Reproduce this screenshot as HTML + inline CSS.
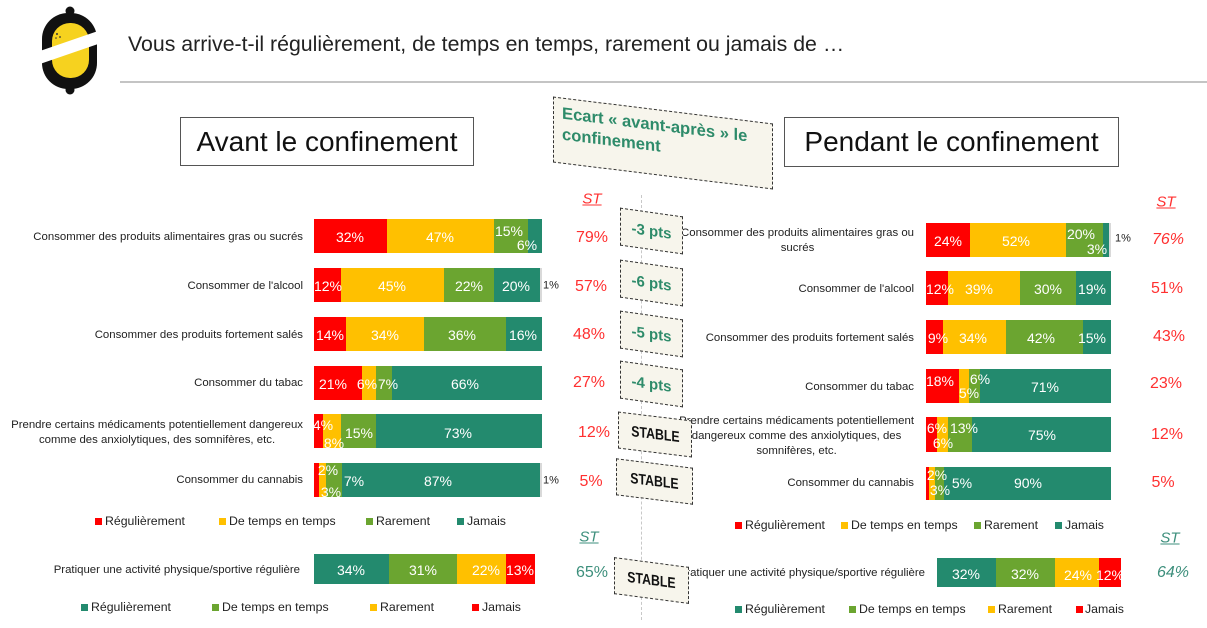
<!DOCTYPE html>
<html><head><meta charset="utf-8">
<style>
body{margin:0;}
#p{position:relative;width:1207px;height:628px;background:#fff;overflow:hidden;font-family:"Liberation Sans",Arial,sans-serif;color:#222;}
.b{position:absolute;}
.r{background:#ff0000}.y{background:#ffc000}.g{background:#6ba530}.t{background:#238a6e}.gr{background:#d9d9d9}
.l1{top:219px;height:34px}.l2{top:268px;height:34px}.l3{top:317px;height:34px}.l4{top:366px;height:34px}.l5{top:414px;height:34px}.l6{top:463px;height:34px}.la{top:554px;height:30px}
.r1{top:223px;height:34px}.r2{top:271px;height:34px}.r3{top:320px;height:34px}.r4{top:369px;height:34px}.r5{top:417px;height:35px}.r6{top:467px;height:33px}.ra{top:558px;height:29px}
.c{position:absolute;transform:translate(-50%,-50%);white-space:nowrap;line-height:1}
.w{color:#fff;font-size:14px}
.d{color:#222;font-size:11px}
.v{font-size:16px;color:#ff3030}
.vt{font-size:16px;color:#3d8f7c}
.st{font-style:italic;text-decoration:underline;font-size:15px}
.lab{position:absolute;font-size:11.4px;line-height:15px;color:#222;text-align:center;white-space:nowrap}
.lg{position:absolute;font-size:12.3px;line-height:14px;color:#222;white-space:nowrap}
.sq{position:absolute;width:7px;height:7px}
.box{position:absolute;background:#f7f5ec;border:1.5px dashed #333;box-sizing:border-box;display:flex;align-items:center;justify-content:center;font-weight:bold;white-space:nowrap}
.pts{color:#2e8b6a;font-size:15px}
.stb{color:#111;font-size:15px}
.stb span{display:inline-block;transform:scaleX(.82)}
.tb{position:absolute;border:1.5px solid #555;box-sizing:border-box;display:flex;align-items:center;justify-content:center;font-size:28px;color:#111;background:#fff}
</style></head><body><div id="p">

<!-- logo -->
<svg style="position:absolute;left:0;top:0" width="110" height="100">
<circle cx="70" cy="11" r="4.5" fill="#111"/>
<circle cx="70" cy="90" r="4.5" fill="#111"/>
<rect x="42" y="13" width="55" height="76" rx="26" fill="#111"/>
<rect x="52" y="23" width="37" height="55" rx="18" fill="#f6d21f"/>
<polygon points="37,52 101,30 101,43 37,65" fill="#fff"/>
<circle cx="57" cy="34" r="1" fill="#333"/><circle cx="60" cy="37" r="0.9" fill="#333"/><circle cx="56" cy="38" r="0.8" fill="#333"/>
</svg>

<div style="position:absolute;left:128px;top:32px;font-size:21.3px;line-height:24px;color:#222;white-space:nowrap">Vous arrive-t-il régulièrement, de temps en temps, rarement ou jamais de …</div>
<div style="position:absolute;left:120px;top:81px;width:1087px;height:2px;background:#c4c4c4"></div>

<div class="tb" style="left:180px;top:117px;width:294px;height:49px">Avant le confinement</div>
<div class="tb" style="left:784px;top:117px;width:335px;height:50px">Pendant le confinement</div>

<!-- dashed vertical line -->
<div style="position:absolute;left:641px;top:195px;height:425px;border-left:1px dashed #c8c8c8"></div>

<!-- LEFT bars -->
<div class="b r l1" style="left:314px;width:73px"></div><div class="b y l1" style="left:387px;width:107px"></div><div class="b g l1" style="left:494px;width:34px"></div><div class="b t l1" style="left:528px;width:14px"></div>
<div class="b r l2" style="left:314px;width:27px"></div><div class="b y l2" style="left:341px;width:103px"></div><div class="b g l2" style="left:444px;width:50px"></div><div class="b t l2" style="left:494px;width:45.5px"></div><div class="b gr l2" style="left:539.5px;width:2.5px"></div>
<div class="b r l3" style="left:314px;width:32px"></div><div class="b y l3" style="left:346px;width:77.5px"></div><div class="b g l3" style="left:423.5px;width:82px"></div><div class="b t l3" style="left:505.5px;width:36.5px"></div>
<div class="b r l4" style="left:314px;width:48px"></div><div class="b y l4" style="left:362px;width:13.5px"></div><div class="b g l4" style="left:375.5px;width:16px"></div><div class="b t l4" style="left:391.5px;width:150.5px"></div>
<div class="b r l5" style="left:314px;width:9px"></div><div class="b y l5" style="left:323px;width:18px"></div><div class="b g l5" style="left:341px;width:34.5px"></div><div class="b t l5" style="left:375.5px;width:166.5px"></div>
<div class="b r l6" style="left:314px;width:5px"></div><div class="b y l6" style="left:319px;width:7px"></div><div class="b g l6" style="left:326px;width:16px"></div><div class="b t l6" style="left:342px;width:198px"></div><div class="b gr l6" style="left:540px;width:2px"></div>
<div class="b t la" style="left:314px;width:75px"></div><div class="b g la" style="left:389px;width:68px"></div><div class="b y la" style="left:457px;width:49px"></div><div class="b r la" style="left:506px;width:29px"></div>

<div class="c w" style="left:350px;top:237px">32%</div><div class="c w" style="left:440px;top:237px">47%</div><div class="c w" style="left:509px;top:231px">15%</div><div class="c w" style="left:527px;top:245px">6%</div>
<div class="c w" style="left:328px;top:286px">12%</div><div class="c w" style="left:392px;top:286px">45%</div><div class="c w" style="left:469px;top:286px">22%</div><div class="c w" style="left:516px;top:286px">20%</div><div class="c d" style="left:551px;top:286px">1%</div>
<div class="c w" style="left:330px;top:335px">14%</div><div class="c w" style="left:385px;top:335px">34%</div><div class="c w" style="left:462px;top:335px">36%</div><div class="c w" style="left:523px;top:335px">16%</div>
<div class="c w" style="left:333px;top:384px">21%</div><div class="c w" style="left:367px;top:384px">6%</div><div class="c w" style="left:388px;top:384px">7%</div><div class="c w" style="left:465px;top:384px">66%</div>
<div class="c w" style="left:323px;top:425px">4%</div><div class="c w" style="left:334px;top:443px">8%</div><div class="c w" style="left:359px;top:433px">15%</div><div class="c w" style="left:458px;top:433px">73%</div>
<div class="c w" style="left:328px;top:470px">2%</div><div class="c w" style="left:331px;top:492px">3%</div><div class="c w" style="left:354px;top:481px">7%</div><div class="c w" style="left:438px;top:481px">87%</div><div class="c d" style="left:551px;top:481px">1%</div>
<div class="c w" style="left:351px;top:570px">34%</div><div class="c w" style="left:423px;top:570px">31%</div><div class="c w" style="left:486px;top:570px">22%</div><div class="c w" style="left:520px;top:570px">13%</div>

<!-- LEFT labels -->
<div class="lab" style="right:904px;top:229.5px">Consommer des produits alimentaires gras ou sucrés</div>
<div class="lab" style="right:904px;top:278.5px">Consommer de l'alcool</div>
<div class="lab" style="right:904px;top:327.5px">Consommer des produits fortement salés</div>
<div class="lab" style="right:904px;top:375.5px">Consommer du tabac</div>
<div class="lab" style="right:904px;top:417.5px">Prendre certains médicaments potentiellement dangereux<br>comme des anxiolytiques, des somnifères, etc.</div>
<div class="lab" style="right:904px;top:472.5px">Consommer du cannabis</div>
<div class="lab" style="right:907px;top:562.5px">Pratiquer une activité physique/sportive régulière</div>

<!-- LEFT values -->
<div class="c st" style="left:592px;top:199px;color:#ff3030">ST</div>
<div class="c v" style="left:592px;top:238px">79%</div>
<div class="c v" style="left:591px;top:287px">57%</div>
<div class="c v" style="left:589px;top:335px">48%</div>
<div class="c v" style="left:589px;top:383px">27%</div>
<div class="c v" style="left:594px;top:433px">12%</div>
<div class="c v" style="left:591px;top:482px">5%</div>
<div class="c st" style="left:589px;top:537px;color:#3d8f7c">ST</div>
<div class="c vt" style="left:592px;top:573px">65%</div>

<!-- LEFT legends -->
<div class="sq r" style="left:95px;top:518px"></div><div class="lg" style="left:105px;top:514px">Régulièrement</div>
<div class="sq y" style="left:219px;top:518px"></div><div class="lg" style="left:229px;top:514px">De temps en temps</div>
<div class="sq g" style="left:366px;top:518px"></div><div class="lg" style="left:376px;top:514px">Rarement</div>
<div class="sq t" style="left:457px;top:518px"></div><div class="lg" style="left:467px;top:514px">Jamais</div>

<div class="sq t" style="left:81px;top:604px"></div><div class="lg" style="left:91px;top:600px">Régulièrement</div>
<div class="sq g" style="left:212px;top:604px"></div><div class="lg" style="left:222px;top:600px">De temps en temps</div>
<div class="sq y" style="left:370px;top:604px"></div><div class="lg" style="left:380px;top:600px">Rarement</div>
<div class="sq r" style="left:472px;top:604px"></div><div class="lg" style="left:482px;top:600px">Jamais</div>

<!-- RIGHT bars -->
<div class="b r r1" style="left:926px;width:44px"></div><div class="b y r1" style="left:970px;width:96px"></div><div class="b g r1" style="left:1066px;width:37px"></div><div class="b t r1" style="left:1103px;width:6px"></div><div class="b gr r1" style="left:1109px;width:2px"></div>
<div class="b r r2" style="left:926px;width:22px"></div><div class="b y r2" style="left:948px;width:72px"></div><div class="b g r2" style="left:1020px;width:56px"></div><div class="b t r2" style="left:1076px;width:35px"></div>
<div class="b r r3" style="left:926px;width:17px"></div><div class="b y r3" style="left:943px;width:63px"></div><div class="b g r3" style="left:1006px;width:77px"></div><div class="b t r3" style="left:1083px;width:28px"></div>
<div class="b r r4" style="left:926px;width:33px"></div><div class="b y r4" style="left:959px;width:10px"></div><div class="b g r4" style="left:969px;width:11px"></div><div class="b t r4" style="left:980px;width:131px"></div>
<div class="b r r5" style="left:926px;width:11px"></div><div class="b y r5" style="left:937px;width:11px"></div><div class="b g r5" style="left:948px;width:24px"></div><div class="b t r5" style="left:972px;width:139px"></div>
<div class="b r r6" style="left:926px;width:3px"></div><div class="b y r6" style="left:929px;width:6px"></div><div class="b g r6" style="left:935px;width:9px"></div><div class="b t r6" style="left:944px;width:167px"></div>
<div class="b t ra" style="left:937px;width:59px"></div><div class="b g ra" style="left:996px;width:59px"></div><div class="b y ra" style="left:1055px;width:44px"></div><div class="b r ra" style="left:1099px;width:22px"></div>

<div class="c w" style="left:948px;top:241px">24%</div><div class="c w" style="left:1016px;top:241px">52%</div><div class="c w" style="left:1081px;top:234px">20%</div><div class="c w" style="left:1097px;top:249px">3%</div><div class="c d" style="left:1123px;top:239px">1%</div>
<div class="c w" style="left:940px;top:289px">12%</div><div class="c w" style="left:979px;top:289px">39%</div><div class="c w" style="left:1048px;top:289px">30%</div><div class="c w" style="left:1092px;top:289px">19%</div>
<div class="c w" style="left:938px;top:338px">9%</div><div class="c w" style="left:973px;top:338px">34%</div><div class="c w" style="left:1041px;top:338px">42%</div><div class="c w" style="left:1092px;top:338px">15%</div>
<div class="c w" style="left:940px;top:381px">18%</div><div class="c w" style="left:969px;top:393px">5%</div><div class="c w" style="left:980px;top:379px">6%</div><div class="c w" style="left:1045px;top:387px">71%</div>
<div class="c w" style="left:937px;top:428px">6%</div><div class="c w" style="left:943px;top:443px">6%</div><div class="c w" style="left:964px;top:428px">13%</div><div class="c w" style="left:1042px;top:435px">75%</div>
<div class="c w" style="left:937px;top:475px">2%</div><div class="c w" style="left:940px;top:490px">3%</div><div class="c w" style="left:962px;top:483px">5%</div><div class="c w" style="left:1028px;top:483px">90%</div>
<div class="c w" style="left:966px;top:574px">32%</div><div class="c w" style="left:1025px;top:574px">32%</div><div class="c w" style="left:1078px;top:575px">24%</div><div class="c w" style="left:1110px;top:575px">12%</div>

<!-- RIGHT labels -->
<div class="lab" style="right:293px;top:225.5px">Consommer des produits alimentaires gras ou<br>sucrés</div>
<div class="lab" style="right:293px;top:281.5px">Consommer de l'alcool</div>
<div class="lab" style="right:293px;top:330.5px">Consommer des produits fortement salés</div>
<div class="lab" style="right:293px;top:379.5px">Consommer du tabac</div>
<div class="lab" style="right:293px;top:413.5px">Prendre certains médicaments potentiellement<br>dangereux comme des anxiolytiques, des<br>somnifères, etc.</div>
<div class="lab" style="right:293px;top:475.5px">Consommer du cannabis</div>
<div class="lab" style="right:282px;top:565.5px">Pratiquer une activité physique/sportive régulière</div>

<!-- RIGHT values -->
<div class="c st" style="left:1166px;top:202px;color:#ff3030">ST</div>
<div class="c v" style="left:1168px;top:240px;font-style:italic">76%</div>
<div class="c v" style="left:1167px;top:289px">51%</div>
<div class="c v" style="left:1169px;top:337px">43%</div>
<div class="c v" style="left:1166px;top:384px">23%</div>
<div class="c v" style="left:1167px;top:435px">12%</div>
<div class="c v" style="left:1163px;top:483px">5%</div>
<div class="c st" style="left:1170px;top:538px;color:#3d8f7c">ST</div>
<div class="c vt" style="left:1173px;top:573px;font-style:italic">64%</div>

<!-- RIGHT legends -->
<div class="sq r" style="left:735px;top:522px"></div><div class="lg" style="left:745px;top:518px">Régulièrement</div>
<div class="sq y" style="left:841px;top:522px"></div><div class="lg" style="left:851px;top:518px">De temps en temps</div>
<div class="sq g" style="left:974px;top:522px"></div><div class="lg" style="left:984px;top:518px">Rarement</div>
<div class="sq t" style="left:1055px;top:522px"></div><div class="lg" style="left:1065px;top:518px">Jamais</div>

<div class="sq t" style="left:735px;top:606px"></div><div class="lg" style="left:745px;top:602px">Régulièrement</div>
<div class="sq g" style="left:849px;top:606px"></div><div class="lg" style="left:859px;top:602px">De temps en temps</div>
<div class="sq y" style="left:988px;top:606px"></div><div class="lg" style="left:998px;top:602px">Rarement</div>
<div class="sq r" style="left:1076px;top:606px"></div><div class="lg" style="left:1085px;top:602px">Jamais</div>

<!-- Middle boxes -->
<div class="box" style="left:553px;top:109.5px;width:220px;height:66px;transform:skewY(7deg);display:block;padding:4px 0 0 8px;font-size:16.6px;line-height:21px;color:#2e8b6a">Ecart « avant-après » le<br>confinement</div>

<div class="box pts" style="left:619.5px;top:212px;width:63px;height:38px;transform:skewY(8deg)">-3 pts</div>
<div class="box pts" style="left:619.5px;top:264px;width:63px;height:38px;transform:skewY(8deg)">-6 pts</div>
<div class="box pts" style="left:619.5px;top:315px;width:63px;height:38px;transform:skewY(8deg)">-5 pts</div>
<div class="box pts" style="left:619.5px;top:365px;width:63px;height:38px;transform:skewY(8deg)">-4 pts</div>
<div class="box stb" style="left:618px;top:416px;width:74px;height:37px;transform:skewY(7deg)"><span>STABLE</span></div>
<div class="box stb" style="left:616px;top:463px;width:77px;height:37px;transform:skewY(7deg)"><span>STABLE</span></div>
<div class="box stb" style="left:614px;top:562px;width:75px;height:37px;transform:skewY(7.5deg)"><span>STABLE</span></div>

</div></body></html>
